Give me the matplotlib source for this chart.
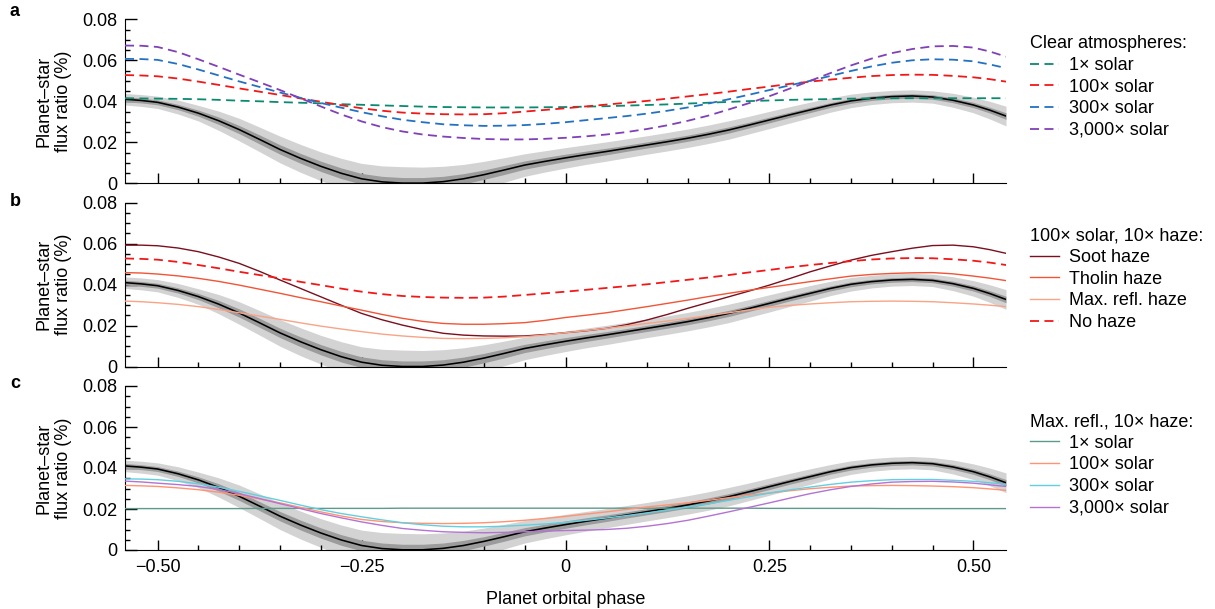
import numpy as np
import matplotlib
matplotlib.use("Agg")
import matplotlib.pyplot as plt
from matplotlib.ticker import MultipleLocator

plt.rcParams['font.family'] = ['Liberation Sans', 'DejaVu Sans']
plt.rcParams['font.size'] = 13

# orbital phase grid the curves were read on
phase = [-0.54, -0.52, -0.50, -0.475, -0.45, -0.425, -0.40, -0.375, -0.35, -0.325, -0.30, -0.275,
         -0.25, -0.225, -0.20, -0.175, -0.15, -0.125, -0.10, -0.075, -0.05, -0.025, 0.0,
         0.025, 0.05, 0.075, 0.10, 0.125, 0.15, 0.175, 0.20, 0.225, 0.25, 0.275, 0.30,
         0.325, 0.35, 0.375, 0.40, 0.425, 0.45, 0.475, 0.50, 0.52, 0.54]

# measured phase curve (black) and half-widths of the two grey bands
obs = [0.0410, 0.0404, 0.0395, 0.0372, 0.0342, 0.0305, 0.0262, 0.0214, 0.0165, 0.0122, 0.0083, 0.0049,
       0.0022, 0.0007, 0.0001, 0.0001, 0.0008, 0.0022, 0.0042, 0.0065, 0.0089, 0.0107, 0.0124,
       0.0140, 0.0155, 0.0171, 0.0187, 0.0203, 0.0220, 0.0239, 0.0260, 0.0284, 0.0309, 0.0334, 0.0358,
       0.0382, 0.0402, 0.0415, 0.0423, 0.0426, 0.0421, 0.0405, 0.0382, 0.0357, 0.0328]
band2 = [0.0028, 0.0029, 0.0030, 0.0034, 0.0038, 0.0047, 0.0055, 0.0060, 0.0065, 0.0068, 0.0070, 0.0073,
         0.0075, 0.0078, 0.0080, 0.0078, 0.0075, 0.0070, 0.0065, 0.0060, 0.0055, 0.0052, 0.0050,
         0.0048, 0.0047, 0.0046, 0.0045, 0.0045, 0.0045, 0.0045, 0.0045, 0.0043, 0.0042, 0.0040, 0.0038,
         0.0035, 0.0033, 0.0031, 0.0030, 0.0030, 0.0030, 0.0034, 0.0038, 0.0043, 0.0048]
band1 = [0.0012, 0.0012, 0.0012, 0.0013, 0.0015, 0.0018, 0.0020, 0.0022, 0.0023, 0.0024, 0.0025, 0.0026,
         0.0026, 0.0027, 0.0027, 0.0027, 0.0026, 0.0025, 0.0023, 0.0022, 0.0020, 0.0019, 0.0018,
         0.0017, 0.0016, 0.0015, 0.0015, 0.0015, 0.0015, 0.0015, 0.0015, 0.0014, 0.0014, 0.0013, 0.0013,
         0.0012, 0.0012, 0.0011, 0.0011, 0.0011, 0.0011, 0.0012, 0.0013, 0.0014, 0.0016]

# a: clear atmospheres
clear_1x = [0.0415, 0.0414, 0.0413, 0.0412, 0.0410, 0.0407, 0.0403, 0.0400, 0.0396, 0.0393, 0.0390, 0.0386,
            0.0383, 0.0380, 0.0377, 0.0374, 0.0372, 0.0371, 0.0370, 0.0370, 0.0370, 0.0371, 0.0372,
            0.0374, 0.0376, 0.0379, 0.0382, 0.0385, 0.0389, 0.0393, 0.0397, 0.0401, 0.0404, 0.0407, 0.0409,
            0.0411, 0.0413, 0.0414, 0.0415, 0.0415, 0.0415, 0.0415, 0.0415, 0.0415, 0.0415]
clear_100x = [0.0528, 0.0526, 0.0522, 0.0511, 0.0496, 0.0480, 0.0463, 0.0447, 0.0431, 0.0414, 0.0398, 0.0381,
              0.0366, 0.0354, 0.0345, 0.0340, 0.0337, 0.0336, 0.0337, 0.0342, 0.0350, 0.0358, 0.0366,
              0.0375, 0.0384, 0.0393, 0.0402, 0.0413, 0.0424, 0.0435, 0.0447, 0.0460, 0.0472, 0.0485, 0.0496,
              0.0506, 0.0515, 0.0523, 0.0528, 0.0530, 0.0529, 0.0524, 0.0517, 0.0508, 0.0496]
clear_300x = [0.0607, 0.0606, 0.0602, 0.0582, 0.0555, 0.0526, 0.0497, 0.0470, 0.0443, 0.0417, 0.0392, 0.0369,
              0.0347, 0.0327, 0.0310, 0.0298, 0.0288, 0.0283, 0.0280, 0.0281, 0.0284, 0.0290, 0.0298,
              0.0308, 0.0318, 0.0328, 0.0340, 0.0354, 0.0370, 0.0389, 0.0410, 0.0432, 0.0455, 0.0478, 0.0500,
              0.0524, 0.0548, 0.0570, 0.0588, 0.0600, 0.0605, 0.0603, 0.0595, 0.0580, 0.0562]
clear_3000x = [0.0672, 0.0671, 0.0665, 0.0640, 0.0605, 0.0568, 0.0530, 0.0493, 0.0455, 0.0415, 0.0375, 0.0336,
               0.0302, 0.0274, 0.0253, 0.0238, 0.0228, 0.0221, 0.0216, 0.0214, 0.0214, 0.0217, 0.0222,
               0.0229, 0.0238, 0.0250, 0.0265, 0.0283, 0.0305, 0.0330, 0.0360, 0.0391, 0.0425, 0.0462, 0.0500,
               0.0538, 0.0575, 0.0608, 0.0635, 0.0655, 0.0668, 0.0670, 0.0662, 0.0643, 0.0618]

# b: 100x solar, 10x haze
soot = [0.0593, 0.0593, 0.0590, 0.0579, 0.0561, 0.0535, 0.0504, 0.0465, 0.0423, 0.0382, 0.0341, 0.0300,
        0.0260, 0.0229, 0.0203, 0.0181, 0.0163, 0.0154, 0.0150, 0.0149, 0.0150, 0.0157, 0.0166,
        0.0175, 0.0187, 0.0205, 0.0228, 0.0255, 0.0285, 0.0313, 0.0341, 0.0369, 0.0398, 0.0430, 0.0463,
        0.0492, 0.0520, 0.0543, 0.0561, 0.0578, 0.0591, 0.0593, 0.0585, 0.0571, 0.0553]
tholin = [0.0459, 0.0457, 0.0452, 0.0443, 0.0431, 0.0416, 0.0398, 0.0378, 0.0358, 0.0337, 0.0317, 0.0296,
          0.0276, 0.0255, 0.0236, 0.0221, 0.0211, 0.0207, 0.0207, 0.0210, 0.0215, 0.0226, 0.0240,
          0.0251, 0.0263, 0.0278, 0.0293, 0.0309, 0.0325, 0.0342, 0.0358, 0.0373, 0.0387, 0.0401, 0.0415,
          0.0429, 0.0442, 0.0450, 0.0455, 0.0458, 0.0459, 0.0453, 0.0442, 0.0432, 0.0420]
maxrefl = [0.0320, 0.0317, 0.0312, 0.0304, 0.0293, 0.0279, 0.0263, 0.0247, 0.0231, 0.0214, 0.0198, 0.0184,
           0.0171, 0.0159, 0.0150, 0.0143, 0.0138, 0.0137, 0.0138, 0.0141, 0.0146, 0.0155, 0.0166,
           0.0176, 0.0187, 0.0199, 0.0211, 0.0223, 0.0236, 0.0249, 0.0263, 0.0277, 0.0290, 0.0299, 0.0306,
           0.0312, 0.0317, 0.0319, 0.0320, 0.0319, 0.0317, 0.0312, 0.0306, 0.0300, 0.0293]

# c: max. refl., 10x haze
mr_1x = [0.0202, 0.0202, 0.0202, 0.0202, 0.0202, 0.0202, 0.0202, 0.0203, 0.0203, 0.0203, 0.0203, 0.0203,
         0.0203, 0.0203, 0.0204, 0.0204, 0.0204, 0.0204, 0.0204, 0.0204, 0.0204, 0.0204, 0.0204,
         0.0204, 0.0204, 0.0204, 0.0204, 0.0204, 0.0204, 0.0204, 0.0204, 0.0204, 0.0203, 0.0203, 0.0203,
         0.0203, 0.0203, 0.0203, 0.0202, 0.0202, 0.0202, 0.0202, 0.0202, 0.0202, 0.0202]
mr_100x = [0.0315, 0.0313, 0.0310, 0.0303, 0.0294, 0.0282, 0.0267, 0.0249, 0.0230, 0.0208, 0.0186, 0.0166,
           0.0149, 0.0139, 0.0133, 0.0130, 0.0129, 0.0130, 0.0133, 0.0138, 0.0145, 0.0154, 0.0164,
           0.0175, 0.0186, 0.0198, 0.0210, 0.0220, 0.0230, 0.0242, 0.0255, 0.0267, 0.0278, 0.0289, 0.0299,
           0.0306, 0.0312, 0.0314, 0.0315, 0.0314, 0.0312, 0.0309, 0.0304, 0.0298, 0.0291]
mr_300x = [0.0347, 0.0346, 0.0343, 0.0335, 0.0323, 0.0306, 0.0286, 0.0264, 0.0242, 0.0219, 0.0197, 0.0178,
           0.0162, 0.0147, 0.0133, 0.0123, 0.0116, 0.0113, 0.0113, 0.0116, 0.0121, 0.0127, 0.0135,
           0.0145, 0.0156, 0.0168, 0.0181, 0.0195, 0.0210, 0.0225, 0.0242, 0.0260, 0.0278, 0.0293, 0.0307,
           0.0320, 0.0331, 0.0338, 0.0343, 0.0344, 0.0344, 0.0340, 0.0335, 0.0328, 0.0320]
mr_3000x = [0.0336, 0.0332, 0.0326, 0.0319, 0.0310, 0.0295, 0.0275, 0.0251, 0.0226, 0.0202, 0.0178, 0.0157,
            0.0137, 0.0120, 0.0105, 0.0096, 0.0089, 0.0086, 0.0084, 0.0086, 0.0089, 0.0092, 0.0095,
            0.0097, 0.0100, 0.0106, 0.0116, 0.0129, 0.0145, 0.0165, 0.0186, 0.0208, 0.0230, 0.0253, 0.0275,
            0.0294, 0.0310, 0.0322, 0.0331, 0.0334, 0.0335, 0.0332, 0.0326, 0.0318, 0.0310]

x = np.array(phase)
obs_a = np.array(obs)
b1 = np.array(band1)
b2 = np.array(band2)

fig = plt.figure(figsize=(12.15, 6.09), dpi=100)
axw = 881 / 1215
axh = 164 / 609
bottoms = [1 - 183.3 / 609, 1 - 366.7 / 609, 1 - 550 / 609]
axes = [fig.add_axes([125 / 1215, b, axw, axh]) for b in bottoms]

for ax in axes:
    ax.fill_between(x, obs_a - b2, obs_a + b2, color='#d3d3d3', lw=0, zorder=1)
    ax.fill_between(x, obs_a - b1, obs_a + b1, color='#9c9c9c', lw=0, zorder=2)
    ax.plot(x, obs_a, color='black', lw=1.15, zorder=3)
    ax.set_xlim(-0.54, 0.54)
    ax.set_ylim(0, 0.08)
    ax.spines['top'].set_visible(False)
    ax.spines['right'].set_visible(False)
    ax.set_yticks([0, 0.02, 0.04, 0.06, 0.08], labels=['0', '0.02', '0.04', '0.06', '0.08'])
    ax.set_xticks([-0.5, -0.25, 0, 0.25, 0.5], labels=['\u22120.50', '\u22120.25', '0', '0.25', '0.50'])
    ax.yaxis.set_minor_locator(MultipleLocator(0.005))
    ax.xaxis.set_minor_locator(MultipleLocator(0.05))
    ax.tick_params(axis='y', which='major', direction='in', length=8.5, width=1, pad=5.5)
    ax.tick_params(axis='y', which='minor', direction='in', length=3.5, width=1)
    ax.tick_params(axis='x', which='major', direction='in', length=7, width=1, pad=6.5)
    ax.tick_params(axis='x', which='minor', direction='in', length=3.5, width=1)
    ax.set_ylabel('Planet\u2013star\nflux ratio (%)', linespacing=1.2)
    ax.yaxis.set_label_coords(-0.06, 0.5)

axes[0].tick_params(axis='x', labelbottom=False)
axes[1].tick_params(axis='x', labelbottom=False)
axes[2].set_xlabel('Planet orbital phase', labelpad=11)

dash = (5, 3)
ax = axes[0]
ax.plot(x, clear_1x, color='#0b8a72', lw=1.3, dashes=dash, label='1\u00d7 solar', zorder=4)
ax.plot(x, clear_100x, color='#f21818', lw=1.3, dashes=dash, label='100\u00d7 solar', zorder=4)
ax.plot(x, clear_300x, color='#2372c2', lw=1.3, dashes=dash, label='300\u00d7 solar', zorder=4)
ax.plot(x, clear_3000x, color='#8040b8', lw=1.3, dashes=dash, label='3,000\u00d7 solar', zorder=4)

ax = axes[1]
ax.plot(x, soot, color='#7a0f1e', lw=1.0, label='Soot haze', zorder=4)
ax.plot(x, tholin, color='#f25436', lw=1.0, label='Tholin haze', zorder=4)
ax.plot(x, maxrefl, color='#f8a486', lw=1.0, label='Max. refl. haze', zorder=4)
ax.plot(x, clear_100x, color='#f21818', lw=1.3, dashes=dash, label='No haze', zorder=4)

ax = axes[2]
ax.plot(x, mr_1x, color='#5e9a8a', lw=1.0, label='1\u00d7 solar', zorder=4)
ax.plot(x, mr_100x, color='#ff9372', lw=1.0, label='100\u00d7 solar', zorder=4)
ax.plot(x, mr_300x, color='#62cfe0', lw=1.0, label='300\u00d7 solar', zorder=4)
ax.plot(x, mr_3000x, color='#b472d2', lw=1.0, label='3,000\u00d7 solar', zorder=4)

titles = ['Clear atmospheres:', '100\u00d7 solar, 10\u00d7 haze:', 'Max. refl., 10\u00d7 haze:']
tops = [0.903, 0.85, 0.835]
for ax, t, top in zip(axes, titles, tops):
    ax.legend(title=t, loc='upper left', bbox_to_anchor=(1.027, top), frameon=False,
              borderpad=0, borderaxespad=0, handlelength=1.6, handletextpad=0.55,
              labelspacing=0.26, alignment='left', fontsize=13, title_fontsize=13)

for lab, yy in zip(['a', 'b', 'c'], [12, 202, 383]):
    fig.text(10 / 1215, 1 - yy / 609, lab, fontweight='bold', fontsize=13, va='center')

fig.savefig('out.png', dpi=100)
